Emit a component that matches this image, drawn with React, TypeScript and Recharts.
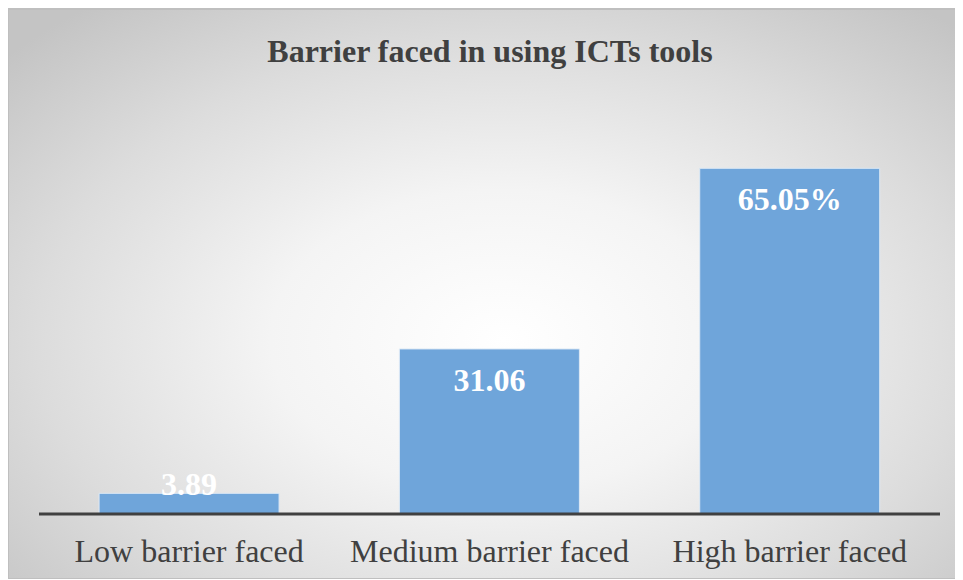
import React from 'react';
import { BarChart, Bar, XAxis, YAxis, LabelList } from 'recharts';

const categories = ['Low barrier faced', 'Medium barrier faced', 'High barrier faced'];
const values = [3.89, 31.06, 65.05];
const valueLabels = ['3.89', '31.06', '65.05%'];

const data = categories.map((name, i) => ({ name, value: values[i], label: valueLabels[i] }));

const FONT = '"Liberation Serif", "Times New Roman", serif';

const CategoryTick = (props: any) => {
  const { x, y, payload } = props;
  return (
    <text x={x} y={y + 29} textAnchor="middle" dominantBaseline="central" fontFamily={FONT} fontSize={32} fill="#404040">
      {payload.value}
    </text>
  );
};

const BarLabel = (props: any) => {
  const { x, y, width, height, value } = props;
  const cy = Math.min(y + 31, y + height - 30);
  return (
    <text x={x + width / 2} y={cy} textAnchor="middle" dominantBaseline="central" fontFamily={FONT} fontWeight="bold" fontSize={32} fill="#ffffff">
      {value}
    </text>
  );
};

export default function App() {
  return (
    <div
      style={{
        position: 'relative',
        width: 951,
        height: 568,
        border: '1px solid #bfbfbf',
        borderTopWidth: 2,
        background: 'radial-gradient(ellipse 70% 75% at 52% 58%, #ffffff 0%, #f4f4f4 35%, #dcdcdc 70%, #c4c4c4 100%)',
      }}
    >
      <div
        style={{
          position: 'absolute',
          top: 21,
          left: 0,
          width: 951,
          textAlign: 'center',
          fontFamily: FONT,
          fontWeight: 'bold',
          fontSize: 32,
          lineHeight: '40px',
          color: '#404040',
          paddingLeft: 11,
          boxSizing: 'border-box',
        }}
      >
        Barrier faced in using ICTs tools
      </div>
      <BarChart
        width={951}
        height={568}
        data={data}
        margin={{ top: 132, right: 20, bottom: 0, left: 30 }}
        barCategoryGap="20%"
      >
        <YAxis hide domain={[0, 70]} />
        <XAxis
          dataKey="name"
          height={64}
          tickLine={false}
          axisLine={{ stroke: '#404040', strokeWidth: 3 }}
          tick={<CategoryTick />}
          interval={0}
        />
        <Bar dataKey="value" fill="#6fa5da" stroke="#dde9f5" strokeWidth={1} isAnimationActive={false}>
          <LabelList dataKey="label" content={<BarLabel />} />
        </Bar>
      </BarChart>
    </div>
  );
}
